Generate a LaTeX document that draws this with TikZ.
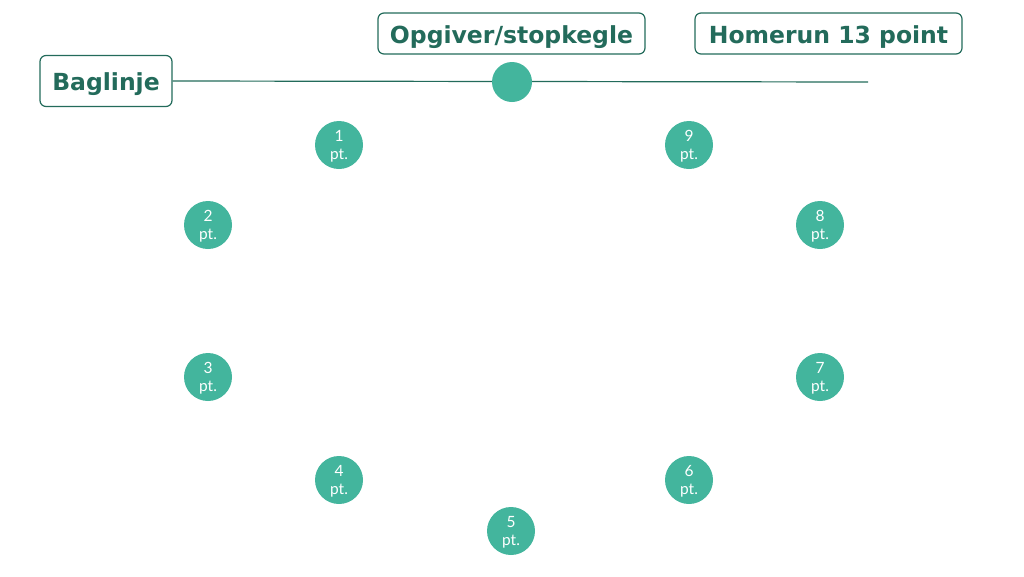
\documentclass[tikz,border=0pt]{standalone}
\usepackage{fontspec}
\setmainfont{DejaVu Sans}
\newfontfamily\lightfont{Lato}
\definecolor{tealfill}{HTML}{43B59D}
\definecolor{darkgreen}{HTML}{236B5B}
\newcommand{\ptpair}[1]{\makebox[0pt]{\raisebox{3.4pt}[0pt][0pt]{#1}}\makebox[0pt]{\raisebox{-14pt}[0pt][0pt]{pt.}}}
\begin{document}
\begin{tikzpicture}[x=1pt,y=-1pt,
  labelbox/.style={draw=darkgreen,line width=1.2pt,rounded corners=6pt,fill=white,
    text=darkgreen,font=\fontsize{23.5}{27}\selectfont\bfseries,inner sep=0pt,
    text height=19.5pt,text depth=0pt},
  ptdot/.style={circle,fill=tealfill,minimum size=48pt,inner sep=0pt,text=white,
    font=\lightfont\fontsize{15.5}{20}\selectfont}]
\useasboundingbox (0,0) rectangle (1024,576);
\node[labelbox,minimum width=132pt,minimum height=51pt] (bag) at (106,81) {Baglinje};
\node[labelbox,minimum width=267pt,minimum height=41pt] (opg) at (511.5,33.5) {Opgiver/stopkegle};
\node[labelbox,minimum width=267pt,minimum height=41pt] (home) at (828.5,33.5) {Homerun 13 point};
\coordinate (lend) at (868,82);
\draw[darkgreen,line width=1.2pt] (bag.east) -- (lend);
\node[circle,fill=tealfill,minimum size=40pt,inner sep=0pt] (cone) at (512,82) {};
\node[ptdot] (p1) at (339,145) {\ptpair{1}};
\node[ptdot] (p2) at (208,225) {\ptpair{2}};
\node[ptdot] (p3) at (208,377) {\ptpair{3}};
\node[ptdot] (p4) at (339,480) {\ptpair{4}};
\node[ptdot] (p5) at (511,531) {\ptpair{5}};
\node[ptdot] (p6) at (689,480) {\ptpair{6}};
\node[ptdot] (p7) at (820,377) {\ptpair{7}};
\node[ptdot] (p8) at (820,225) {\ptpair{8}};
\node[ptdot] (p9) at (689,145) {\ptpair{9}};
\end{tikzpicture}
\end{document}
